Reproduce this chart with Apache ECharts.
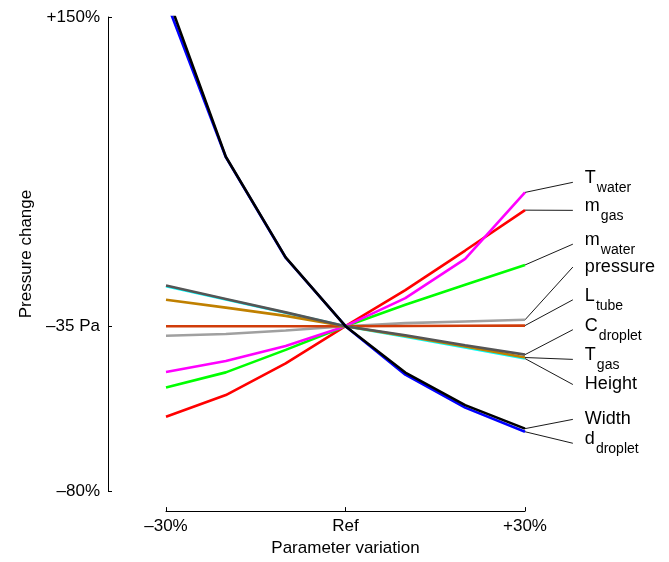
<!DOCTYPE html>
<html>
<head>
<meta charset="utf-8">
<script src="https://cdn.jsdelivr.net/npm/echarts@6/dist/echarts.min.js"></script>
<style>
  html, body { margin: 0; padding: 0; background: #fff; }
  #chart { width: 669px; height: 562px; }
</style>
</head>
<body>
<div id="chart"></div>
<script>
// Parameter variation (%) along the x axis
const xValues = [-30, -20, -10, 0, 10, 20, 30];

// Pressure change relative to the reference (%), one array per parameter
const tWater   = [-22.2, -16.9, -9.6, 0, 13.6, 32.7, 64.9];
const mGas     = [-43.9, -33.4, -18.0, 0, 17.5, 36.7, 56.3];
const mWater   = [-29.7, -22.4, -11.5, 0, 10.4, 20.1, 29.7];
const pressure = [-4.6, -3.8, -2.1, 0, 1.5, 2.3, 3.1];
const lTube    = [0, 0, 0, 0, 0.1, 0.2, 0.3];
const cDroplet = [19.7, 13.2, 6.7, 0, -4.4, -9.2, -13.8];
const tGas     = [12.8, 9.0, 5.0, 0, -4.8, -9.8, -15.2];
const heightV  = [19.4, 12.9, 6.5, 0, -5.1, -10.3, -15.7];
const widthV   = [162, 82.2, 33.4, 0, -22.5, -38.3, -49.7];
const dDroplet = [158, 82.0, 33.2, 0, -23.5, -39.5, -51.2];

// Axis ticks
const xTickValues = [-30, 0, 30];
const xTickLabels = ['–30%', 'Ref', '+30%'];
const yTickValues = [-80, 0, 150];
const yTickLabels = ['–80%', '–35 Pa', '+150%'];

// Name labels on the right: leader end x and label heights, in axis units
const leaderX = 38;
const labelSlots = {
  tWater: 69.8, mGas: 56.2, mWater: 39.8, pressure: 28.7, lTube: 12.8,
  cDroplet: -1.7, tGas: -16.1, height: -28.3, width: -45.2, dDroplet: -56.8
};

const FONT = "'Liberation Sans', Arial, Helvetica, sans-serif";

// Drawing order: later entries are painted on top
const params = [
  { key: 'mGas',     data: mGas,     color: '#ff0000', main: 'm', sub: 'gas' },
  { key: 'mWater',   data: mWater,   color: '#00ff00', main: 'm', sub: 'water' },
  { key: 'tWater',   data: tWater,   color: '#ff00ff', main: 'T', sub: 'water' },
  { key: 'pressure', data: pressure, color: '#a0a0a0', main: 'pressure', sub: '' },
  { key: 'lTube',    data: lTube,    color: '#d03c0a', main: 'L', sub: 'tube' },
  { key: 'height',   data: heightV,  color: '#00ffff', main: 'Height', sub: '' },
  { key: 'tGas',     data: tGas,     color: '#c08000', main: 'T', sub: 'gas' },
  { key: 'cDroplet', data: cDroplet, color: '#555555', main: 'C', sub: 'droplet' },
  { key: 'dDroplet', data: dDroplet, color: '#0000ff', main: 'd', sub: 'droplet' },
  { key: 'width',    data: widthV,   color: '#000000', main: 'Width', sub: '' }
];

const series = params.map(p => ({
  type: 'line',
  name: p.key,
  data: xValues.map((x, i) => [x, p.data[i]]),
  symbol: 'none',
  lineStyle: { color: p.color, width: 2.6 },
  z: 3
}));

const chart = echarts.init(document.getElementById('chart'), null, { renderer: 'canvas' });
chart.setOption({
  animation: false,
  backgroundColor: '#ffffff',
  textStyle: { fontFamily: FONT },
  grid: { left: 166, right: 144, top: 17, bottom: 69, containLabel: false },
  xAxis: {
    type: 'value',
    min: -30,
    max: 30,
    offset: 20,
    name: 'Parameter variation',
    nameLocation: 'middle',
    nameGap: 27,
    nameTextStyle: { fontSize: 17, color: '#000', fontFamily: FONT },
    axisLine: { show: true, onZero: false, lineStyle: { color: '#000', width: 1 } },
    axisTick: { show: true, inside: true, length: 4, customValues: xTickValues, lineStyle: { color: '#000' } },
    axisLabel: {
      customValues: xTickValues,
      margin: 7,
      fontSize: 17,
      color: '#000',
      fontFamily: FONT,
      formatter: v => xTickLabels[xTickValues.indexOf(v)]
    },
    splitLine: { show: false }
  },
  yAxis: {
    type: 'value',
    min: -80,
    max: 150,
    offset: 58,
    name: 'Pressure change',
    nameLocation: 'middle',
    nameRotate: 90,
    nameGap: 68,
    nameTextStyle: { fontSize: 17, color: '#000', fontFamily: FONT },
    axisLine: { show: true, onZero: false, lineStyle: { color: '#000', width: 1 } },
    axisTick: { show: true, inside: true, length: 4, customValues: yTickValues, lineStyle: { color: '#000' } },
    axisLabel: {
      customValues: yTickValues,
      margin: 8,
      fontSize: 17,
      color: '#000',
      fontFamily: FONT,
      formatter: v => yTickLabels[yTickValues.indexOf(v)]
    },
    splitLine: { show: false }
  },
  series: series
});

// Leader lines from each series end to its name, positioned through the chart's scales
const toPx = (x, y) => chart.convertToPixel({ gridIndex: 0 }, [x, y]);
const graphics = [];
const xEnd = xValues[xValues.length - 1];
params.forEach(p => {
  const a = toPx(xEnd, p.data[p.data.length - 1]);
  const b = toPx(leaderX, labelSlots[p.key]);
  graphics.push({
    type: 'line',
    shape: { x1: a[0], y1: a[1], x2: b[0], y2: b[1] },
    style: { stroke: '#000', lineWidth: 0.9 },
    z: 2
  });
  graphics.push({
    type: 'text',
    x: b[0] + 12,
    y: b[1],
    style: {
      text: p.sub ? '{m|' + p.main + '}{s|' + p.sub + '}' : '{p|' + p.main + '}',
      verticalAlign: 'middle',
      align: 'left',
      rich: {
        m: { fontSize: 18, fontFamily: FONT, fill: '#000', lineHeight: 18, padding: [0, 0, 8, 0] },
        s: { fontSize: 14, fontFamily: FONT, fill: '#000', lineHeight: 14, padding: [12, 0, 0, 1] },
        p: { fontSize: 18, fontFamily: FONT, fill: '#000', lineHeight: 18 }
      }
    },
    z: 2
  });
});
chart.setOption({ graphic: graphics });
</script>
</body>
</html>
